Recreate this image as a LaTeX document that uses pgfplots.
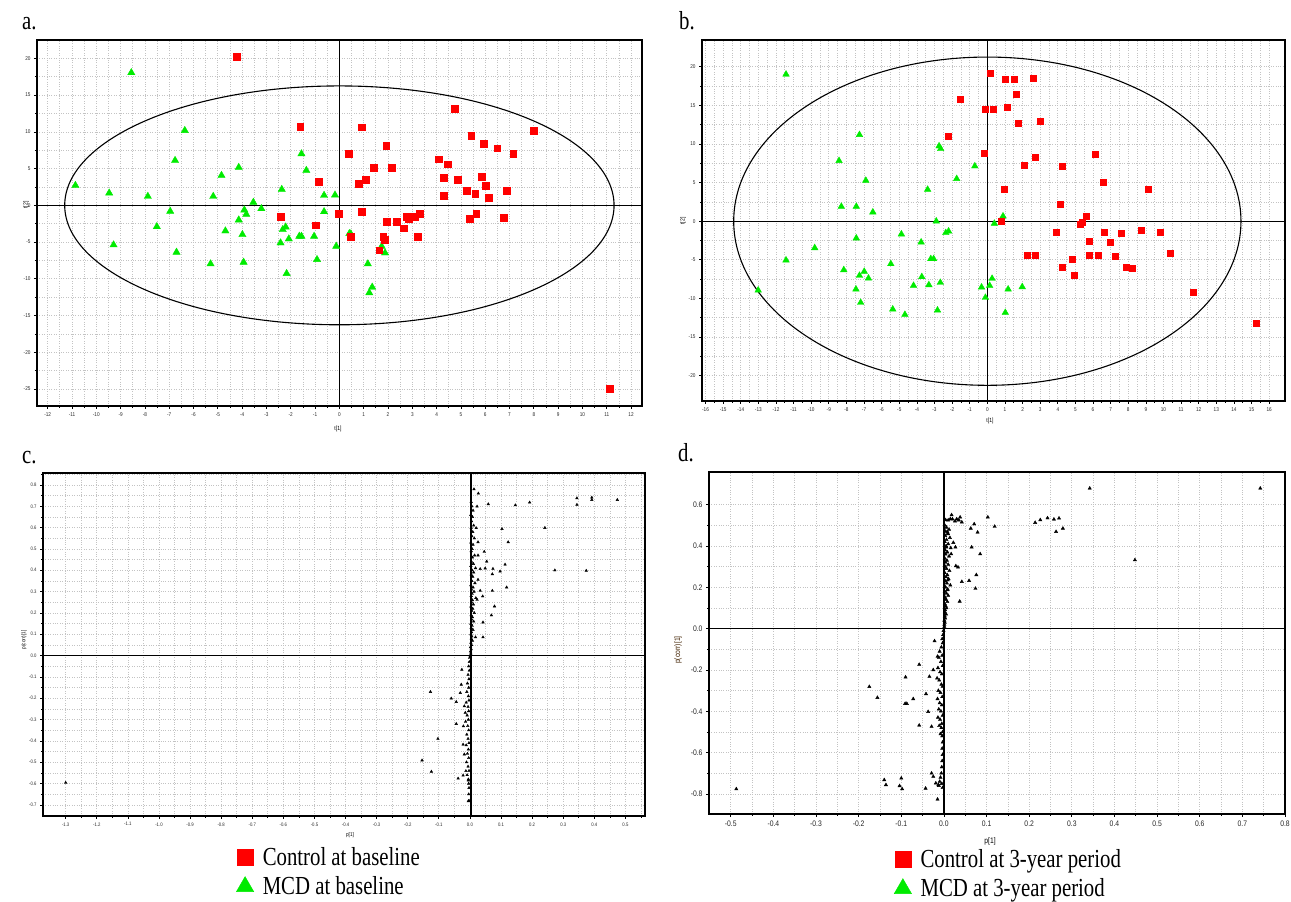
\documentclass[border=0pt]{standalone}
\usepackage{pgfplots}
\pgfplotsset{compat=1.18}
\usepackage{fontspec}
\setmainfont{Liberation Serif}
\setsansfont{Liberation Sans}
\newfontfamily\legfont[FakeStretch=0.8]{Liberation Serif}
\newfontfamily\tickfont[FakeStretch=0.85]{Liberation Sans}

\definecolor{ptred}{RGB}{255,0,0}
\definecolor{ptgreen}{RGB}{0,235,0}
\definecolor{gridgray}{RGB}{195,195,195}

\pgfplotsset{
  panel/.style={
    scale only axis, anchor=south west,
    axis line style={line width=1.5pt},
    tick style={black, line width=0.7pt},
    major tick length=3pt, minor tick length=2pt,
    tick align=outside, xtick pos=bottom, ytick pos=left,
    grid=both,
    major grid style={gridgray, dotted, line width=0.7pt},
    minor grid style={gridgray, dotted, line width=0.7pt},
    tick label style={font=\tickfont\fontsize{5.5}{6}\selectfont, text=black!85},
    /pgf/number format/assume math mode=true,
  },
  redsq/.style={only marks, mark=square*, mark size=3.4pt, color=ptred},
  greentri/.style={only marks, mark=triangle*, mark size=4.2pt, color=ptgreen},
  blk/.style={only marks, mark=triangle*, mark size=1.5pt, color=black},
  leg/.style={draw=none, fill=none, anchor=north west,
    font=\legfont\fontsize{26}{28}\selectfont, row sep=6pt, column sep=7pt},
}

\begin{document}
\begin{tikzpicture}[x=1pt,y=1pt]
\useasboundingbox (0,0) rectangle (1291,902);

% ---------------- a. scores at baseline
\begin{axis}[panel, at={(37pt,496pt)}, width=605pt, height=366pt,
  xmin=-12.44, xmax=12.45, ymin=-27.3, ymax=22.5,
  xtick={-12,...,12}, ytick={-25,-20,...,20},
  minor x tick num=1, minor y tick num=1]
\draw[line width=1.1pt] (axis cs:0,0) ellipse [x radius=11.3, y radius=16.25];
\draw[line width=1.3pt] (axis cs:0,-27.3) -- (axis cs:0,22.5);
\draw[line width=1.3pt] (axis cs:-12.44,0) -- (axis cs:12.45,0);
\addplot[greentri] coordinates {
 (-8.56,18.05)(-6.36,10.18)(-10.86,2.71)(-9.47,1.67)(-7.88,1.22)(-6.76,6.11)
 (-4.14,5.16)(-4.85,4.07)(-5.19,1.22)(-6.96,-0.81)(-7.51,-2.90)(-9.29,-5.38)
 (-6.70,-6.38)(-5.30,-7.96)(-3.94,-7.74)(-4.69,-3.48)(-3.99,-3.98)(-4.14,-1.99)
 (-3.91,-0.63)(-3.83,-1.22)(-3.54,0.41)(-3.21,-0.45)(-2.37,2.17)(-2.42,-5.11)
 (-2.33,-3.30)(-2.21,-2.94)(-2.08,-4.57)(-2.17,-9.28)(-1.65,-4.21)(-1.56,-4.21)
 (-1.56,7.01)(-1.36,4.75)(-1.04,-4.21)(-0.92,-7.38)(-0.63,1.36)(-0.63,-0.86)
 (-0.18,1.40)(-0.13,-5.57)(0.41,-3.85)(0.47,-3.89)(1.17,-7.96)(1.35,-11.13)
 (1.23,-11.90)(1.74,-5.57)(1.88,-6.47)
};
\addplot[redsq] coordinates {
 (-4.23,20.27)(-1.61,10.72)(0.91,10.63)(-0.84,3.26)(0.39,7.01)(1.93,8.14)
 (1.41,5.16)(2.14,5.07)(1.09,3.44)(0.79,2.90)(4.73,13.17)(8.00,10.18)
 (5.42,9.46)(5.95,8.42)(6.49,7.78)(7.15,7.01)(4.07,6.29)(4.46,5.61)
 (4.28,3.71)(4.88,3.44)(5.85,3.85)(6.03,2.71)(5.25,1.95)(5.59,1.63)
 (6.89,2.04)(4.28,1.31)(6.15,1.04)(-0.02,-1.09)(0.91,-0.86)(-2.42,-1.49)
 (-0.96,-2.71)(1.95,-2.17)(2.37,-2.17)(2.77,-1.58)(2.85,-1.81)(3.11,-1.58)
 (3.32,-1.13)(2.64,-3.12)(3.21,-4.25)(0.45,-4.25)(1.80,-4.25)(1.88,-4.62)
 (1.64,-6.11)(5.37,-1.81)(5.63,-1.18)(6.75,-1.72)(11.11,-24.98)
};
\end{axis}

% ---------------- b. scores at 3-year period
\begin{axis}[panel, at={(702pt,501pt)}, width=583pt, height=361pt,
  xmin=-16.2, xmax=16.9, ymin=-23.28, ymax=23.46,
  xtick={-16,...,16}, ytick={-20,-15,...,20},
  minor x tick num=1, minor y tick num=1]
\draw[line width=1.1pt] (axis cs:0,0) ellipse [x radius=14.4, y radius=21.25];
\draw[line width=1.3pt] (axis cs:0,-23.28) -- (axis cs:0,23.46);
\draw[line width=1.3pt] (axis cs:-16.2,0) -- (axis cs:16.9,0);
\addplot[greentri, mark size=3.8pt] coordinates {
 (-11.43,19.01)(-7.26,11.19)(-8.42,7.82)(-6.90,5.27)(-2.74,9.72)(-2.65,9.37)
 (-0.71,7.13)(-1.74,5.49)(-3.39,4.10)(-8.29,1.90)(-7.44,1.90)(-6.50,1.17)
 (-2.90,0.00)(0.89,0.65)(0.40,-0.30)(-4.88,-1.68)(-7.44,-2.20)(-3.76,-2.72)
 (-2.36,-1.51)(-2.20,-1.30)(-9.80,-3.46)(-11.43,-5.05)(-5.48,-5.53)(-3.21,-4.88)
 (-3.05,-4.88)(-8.15,-6.31)(-7.26,-7.04)(-6.99,-6.52)(-6.75,-7.39)(-3.72,-7.21)
 (-4.19,-8.34)(-3.32,-8.25)(-2.67,-7.95)(-7.46,-8.81)(-7.19,-10.54)(-13.01,-8.94)
 (-5.37,-11.40)(-4.68,-12.10)(-2.83,-11.53)(-0.33,-8.55)(0.27,-7.43)(0.13,-8.34)
 (-0.11,-9.89)(1.18,-8.81)(1.98,-8.51)(1.02,-11.84)
};
\addplot[redsq, mark size=3pt] coordinates {
 (0.18,19.14)(1.00,18.40)(1.54,18.32)(2.61,18.49)(1.65,16.46)(-1.56,15.81)
 (-0.13,14.56)(0.31,14.47)(1.14,14.73)(1.74,12.70)(2.98,12.96)(-2.20,11.02)
 (-0.20,8.77)(2.72,8.29)(2.09,7.30)(4.23,7.08)(6.15,8.68)(6.57,5.10)
 (9.15,4.10)(0.98,4.19)(4.14,2.16)(5.59,0.69)(0.80,0.00)(5.39,-0.09)
 (5.30,-0.43)(3.90,-1.47)(5.77,-2.64)(6.64,-1.47)(6.99,-2.72)(7.62,-1.60)
 (8.73,-1.21)(9.84,-1.38)(10.36,-4.10)(2.27,-4.36)(2.74,-4.45)(5.77,-4.36)
 (6.30,-4.36)(7.28,-4.54)(4.79,-4.88)(4.23,-5.96)(7.91,-5.92)(8.22,-6.05)
 (4.94,-7.04)(11.69,-9.16)(15.28,-13.26)
};
\end{axis}

% ---------------- c. loadings at baseline
\begin{axis}[panel, at={(43pt,86pt)}, width=602pt, height=343pt,
  xmin=-1.373, xmax=0.563, ymin=-0.752, ymax=0.856,
  xtick={-1.3,-1.2,...,0.55}, ytick={-0.7,-0.6,...,0.85},
  minor x tick num=1, minor y tick num=1,
  tick label style={font=\tickfont\fontsize{5}{6}\selectfont},
  /pgf/number format/.cd, fixed, fixed zerofill, precision=1,
  /pgfplots/.cd,
  legend style={leg, at={(0.316,-0.079)}},
  legend cell align=left]
\addlegendimage{only marks, mark=square*, mark size=8pt, color=ptred}
\addlegendentry{Control at baseline}
\addlegendimage{only marks, mark=triangle*, mark size=10pt, color=ptgreen}
\addlegendentry{MCD at baseline}
\draw[line width=1.3pt] (axis cs:0.003,-0.752) -- (axis cs:0.003,0.856);
\draw[line width=1.3pt] (axis cs:-1.373,0) -- (axis cs:0.563,0);
\addplot[blk] coordinates {
 (-1.30,-0.596)(0.013,0.78)(0.027,0.76)(0.059,0.71)(0.146,0.705)(0.192,0.718)
 (0.344,0.738)(0.344,0.707)(0.392,0.741)(0.392,0.73)(0.474,0.73)(0.023,0.699)
 (0.020,0.598)(0.103,0.594)(0.241,0.599)(0.123,0.532)(0.026,0.532)(0.046,0.487)
 (0.054,0.441)(0.026,0.47)(0.113,0.427)(0.074,0.407)(0.097,0.395)(0.049,0.409)
 (0.033,0.406)(0.072,0.382)(0.273,0.40)(0.374,0.398)(0.118,0.32)(0.072,0.304)
 (0.033,0.304)(0.041,0.278)(0.079,0.231)(0.069,0.189)(0.042,0.156)(0.042,0.086)
 (0.018,0.086)(0.023,0.262)(0.026,0.356)
 (-0.127,-0.17)(-0.060,-0.201)(-0.044,-0.217)(-0.031,-0.175)(-0.026,-0.066)
 (-0.028,-0.136)(-0.044,-0.32)(-0.103,-0.39)(-0.154,-0.491)(-0.124,-0.544)
 (-0.038,-0.576)(-0.022,-0.562)(-0.013,-0.541)(-0.018,-0.463)(-0.022,-0.417)
 (-0.021,-0.331)(-0.015,-0.268)(-0.005,-0.682)(-0.005,-0.585)(-0.018,-0.237)
 (0.004,0.72)(0.006,0.70)(0.010,0.68)(0.003,0.66)(0.008,0.65)(0.005,0.63)
 (0.012,0.61)(0.004,0.60)(0.009,0.58)(0.006,0.56)(0.014,0.55)(0.003,0.53)
 (0.010,0.52)(0.007,0.50)(0.004,0.49)(0.015,0.47)(0.008,0.46)(0.005,0.44)
 (0.011,0.43)(0.003,0.42)(0.018,0.41)(0.007,0.40)(0.012,0.39)(0.004,0.38)
 (0.009,0.37)(0.006,0.35)(0.016,0.34)(0.003,0.33)(0.010,0.32)(0.005,0.31)
 (0.013,0.30)(0.007,0.29)(0.004,0.28)(0.019,0.27)(0.008,0.26)(0.005,0.25)
 (0.011,0.24)(0.003,0.23)(0.009,0.22)(0.006,0.21)(0.014,0.20)(0.004,0.19)
 (0.008,0.18)(0.005,0.17)(0.012,0.16)(0.003,0.15)(0.007,0.14)(0.004,0.13)
 (0.010,0.12)(0.005,0.11)(0.003,0.10)(0.006,0.09)(0.004,0.08)(0.008,0.07)
 (0.003,0.06)(0.005,0.05)(0.002,0.04)(0.004,0.03)(0.002,0.02)(0.003,0.01)
 (0.001,0.00)(-0.001,-0.01)(-0.002,-0.03)(-0.004,-0.05)(-0.002,-0.07)
 (-0.006,-0.09)(-0.003,-0.11)(-0.008,-0.13)(-0.004,-0.15)(-0.010,-0.17)
 (-0.005,-0.19)(-0.003,-0.21)(-0.012,-0.22)(-0.006,-0.24)(-0.004,-0.26)
 (-0.009,-0.28)(-0.005,-0.30)(-0.014,-0.31)(-0.007,-0.33)(-0.004,-0.35)
 (-0.010,-0.37)(-0.006,-0.39)(-0.003,-0.41)(-0.012,-0.42)(-0.005,-0.44)
 (-0.008,-0.46)(-0.004,-0.48)(-0.011,-0.50)(-0.006,-0.52)(-0.003,-0.54)
 (-0.009,-0.56)(-0.005,-0.58)(-0.004,-0.60)(-0.003,-0.62)(-0.004,-0.65)
 (-0.003,-0.68)
};
\end{axis}

% ---------------- d. loadings at 3-year period
\begin{axis}[panel, at={(709pt,88pt)}, width=576pt, height=342pt,
  xmin=-0.551, xmax=0.80, ymin=-0.897, ymax=0.758,
  xtick={-0.5,-0.4,...,0.85}, ytick={-0.8,-0.6,...,0.65},
  minor x tick num=1, minor y tick num=1,
  tick label style={font=\tickfont\fontsize{8}{9}\selectfont},
  /pgf/number format/.cd, fixed, fixed zerofill, precision=1,
  /pgfplots/.cd,
  legend style={leg, at={(0.316,-0.091)}},
  legend cell align=left]
\addlegendimage{only marks, mark=square*, mark size=8pt, color=ptred}
\addlegendentry{Control at 3-year period}
\addlegendimage{only marks, mark=triangle*, mark size=10pt, color=ptgreen}
\addlegendentry{MCD at 3-year period}
\draw[line width=1.3pt] (axis cs:0,-0.897) -- (axis cs:0,0.758);
\draw[line width=1.3pt] (axis cs:-0.551,0) -- (axis cs:0.80,0);
\addplot[blk, mark size=1.9pt] coordinates {
 (-0.487,-0.776)(0.342,0.679)(0.742,0.679)(0.448,0.332)(-0.175,-0.281)
 (-0.156,-0.334)(-0.090,-0.235)(-0.091,-0.363)(-0.087,-0.363)(-0.072,-0.340)
 (-0.058,-0.174)(-0.058,-0.468)(-0.037,-0.402)(-0.029,-0.474)(-0.042,-0.316)
 (-0.140,-0.732)(-0.136,-0.756)(-0.100,-0.724)(-0.104,-0.761)(-0.098,-0.776)
 (-0.043,-0.773)(-0.015,-0.826)(-0.029,-0.70)(-0.025,-0.716)(-0.019,-0.748)
 (-0.013,-0.756)(-0.022,-0.06)(-0.015,-0.135)(-0.025,-0.20)(-0.034,-0.232)
 (0.004,0.526)(0.018,0.55)(0.015,0.531)(0.038,0.539)(0.042,0.515)(0.103,0.539)
 (0.119,0.494)(0.063,0.485)(0.071,0.506)(0.079,0.466)(0.008,0.469)(0.214,0.513)
 (0.226,0.526)(0.243,0.535)(0.258,0.529)(0.270,0.534)(0.263,0.469)(0.279,0.485)
 (0.022,0.416)(0.027,0.394)(0.017,0.361)(0.028,0.303)(0.033,0.297)(0.065,0.394)
 (0.085,0.361)(0.042,0.227)(0.059,0.232)(0.076,0.26)(0.074,0.194)(0.037,0.132)
 (0.010,0.458)(0.006,0.394)(0.009,0.235)(0.008,0.187)
 (0.010,0.525)(0.020,0.53)(0.030,0.53)(0.026,0.52)(0.035,0.525)
 (0.002,0.50)(0.006,0.49)(0.012,0.48)(0.004,0.47)(0.009,0.46)(0.003,0.45)
 (0.014,0.44)(0.006,0.43)(0.002,0.42)(0.010,0.41)(0.005,0.40)(0.016,0.39)
 (0.003,0.38)(0.008,0.37)(0.004,0.36)(0.012,0.35)(0.002,0.34)(0.007,0.33)
 (0.004,0.32)(0.010,0.31)(0.003,0.30)(0.006,0.29)(0.013,0.28)(0.002,0.27)
 (0.008,0.26)(0.005,0.25)(0.011,0.24)(0.003,0.23)(0.007,0.22)(0.015,0.21)
 (0.004,0.20)(0.009,0.19)(0.002,0.18)(0.006,0.17)(0.010,0.16)(0.003,0.15)
 (0.005,0.14)(0.008,0.13)(0.002,0.12)(0.004,0.11)(0.006,0.10)(0.003,0.09)
 (0.002,0.08)(0.005,0.07)(0.002,0.06)(0.003,0.05)(0.001,0.04)(0.002,0.03)
 (0.001,0.02)(0.001,0.01)
 (-0.001,-0.01)(-0.002,-0.03)(-0.004,-0.05)(-0.003,-0.07)(-0.006,-0.09)
 (-0.010,-0.11)(-0.004,-0.13)(-0.012,-0.14)(-0.007,-0.16)(-0.003,-0.18)
 (-0.014,-0.19)(-0.009,-0.21)(-0.005,-0.22)(-0.016,-0.24)(-0.011,-0.25)
 (-0.006,-0.27)(-0.003,-0.28)(-0.013,-0.30)(-0.008,-0.31)(-0.004,-0.33)
 (-0.015,-0.34)(-0.010,-0.36)(-0.005,-0.37)(-0.012,-0.39)(-0.007,-0.40)
 (-0.003,-0.42)(-0.014,-0.43)(-0.009,-0.44)(-0.005,-0.46)(-0.011,-0.47)
 (-0.006,-0.48)(-0.003,-0.50)(-0.008,-0.51)(-0.004,-0.52)(-0.003,-0.55)
 (-0.004,-0.58)(-0.003,-0.61)(-0.004,-0.64)(-0.005,-0.67)(-0.006,-0.70)
 (-0.008,-0.72)(-0.010,-0.74)(-0.012,-0.76)(-0.005,-0.75)(-0.003,-0.77)
};
\end{axis}

% panel letters and axis titles
\begin{scope}[every node/.style={inner sep=0pt}]
\node[anchor=base west, font=\legfont\fontsize{26}{28}\selectfont] at (22pt,872pt) {a.};
\node[anchor=base west, font=\legfont\fontsize{26}{28}\selectfont] at (679pt,872pt) {b.};
\node[anchor=base west, font=\legfont\fontsize{26}{28}\selectfont] at (22pt,438pt) {c.};
\node[anchor=base west, font=\legfont\fontsize{26}{28}\selectfont] at (678pt,440pt) {d.};
\node[font=\tickfont\fontsize{6}{7}\selectfont] at (338pt,473pt) {t[1]};
\node[font=\tickfont\fontsize{6}{7}\selectfont, rotate=90] at (26pt,697pt) {t[2]};
\node[font=\tickfont\fontsize{6}{7}\selectfont] at (990pt,481pt) {t[1]};
\node[font=\tickfont\fontsize{6}{7}\selectfont, rotate=90] at (683pt,681pt) {t[2]};
\node[font=\tickfont\fontsize{5.5}{6}\selectfont] at (350pt,67pt) {p[1]};
\node[font=\tickfont\fontsize{5.5}{6}\selectfont, rotate=90] at (24pt,262pt) {p(corr)[1]};
\node[font=\tickfont\fontsize{8}{9}\selectfont] at (990pt,61pt) {p[1]};
\node[font=\tickfont\fontsize{8}{9}\selectfont, rotate=90, text=black!75!orange] at (678pt,252pt) {p(corr)[1]};
\end{scope}
\end{tikzpicture}
\end{document}
